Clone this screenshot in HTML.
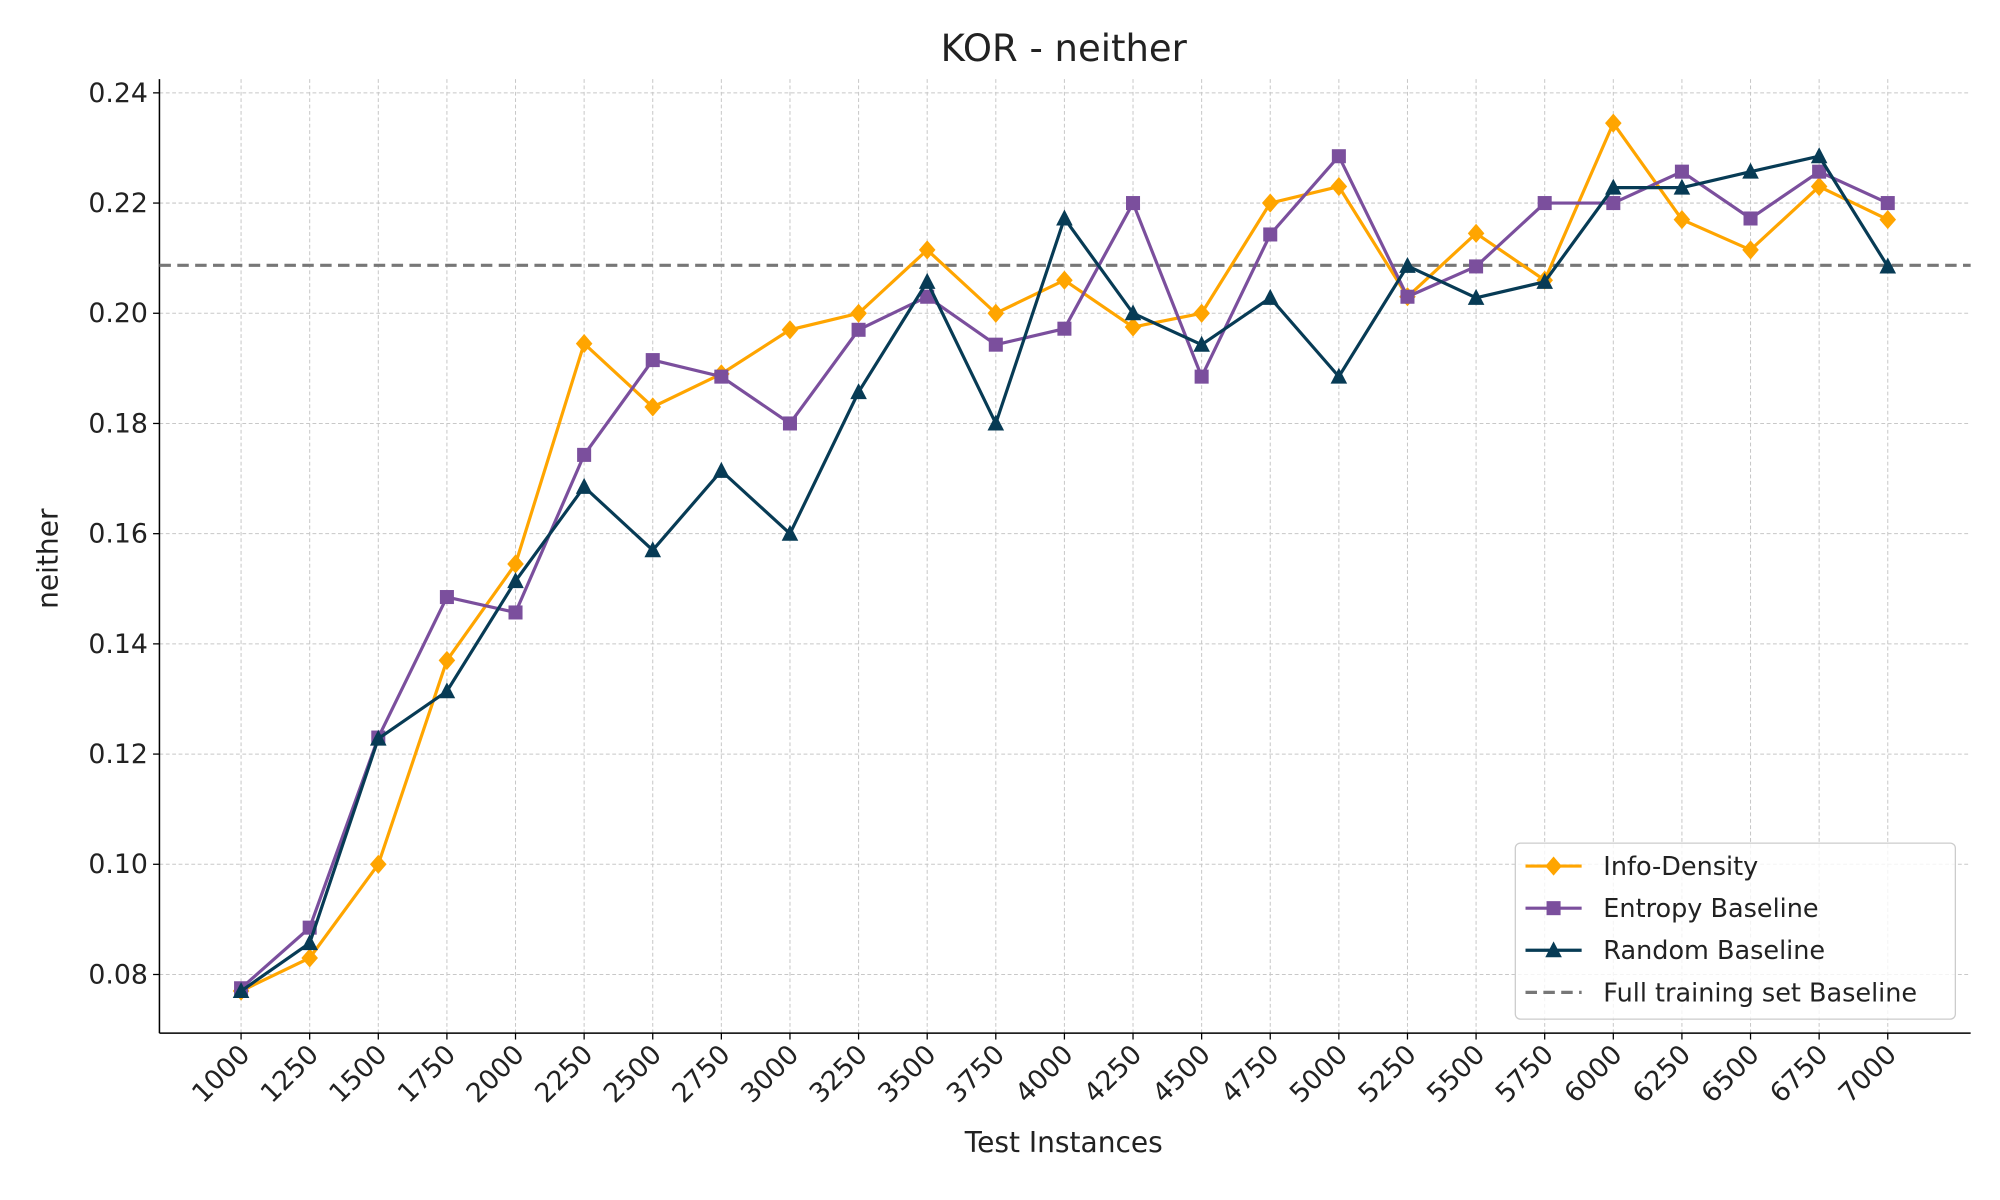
<!DOCTYPE html>
<html><head><meta charset="utf-8"><style>html,body{margin:0;padding:0;background:#fff}svg{display:block}text{font-family:"DejaVu Sans","Liberation Sans",sans-serif;fill:#222}</style></head>
<body>
<svg id="chart" width="2000" height="1200" viewBox="0 0 1568 940.8" xmlns="http://www.w3.org/2000/svg"></svg>
<script>
const categories=[1000,1250,1500,1750,2000,2250,2500,2750,3000,3250,3500,3750,4000,4250,4500,4750,5000,5250,5500,5750,6000,6250,6500,6750,7000];
const infoDensity=[0.077,0.083,0.100,0.137,0.1545,0.1945,0.183,0.189,0.197,0.200,0.2115,0.200,0.206,0.1975,0.200,0.220,0.223,0.203,0.2145,0.206,0.2345,0.217,0.2115,0.223,0.217];
const entropy=[0.0775,0.0885,0.123,0.1485,0.1457,0.1743,0.1915,0.1885,0.180,0.197,0.203,0.1943,0.1972,0.220,0.1885,0.2143,0.2285,0.203,0.2085,0.220,0.220,0.2257,0.2172,0.2257,0.220];
const randomB=[0.077,0.0857,0.1228,0.1314,0.1514,0.1685,0.157,0.1714,0.160,0.1857,0.2057,0.180,0.2172,0.200,0.1943,0.2028,0.1885,0.2086,0.2028,0.2057,0.2228,0.2228,0.2257,0.2285,0.2085];
const fullBaseline=[0.2087];
const yTicks=[0.08,0.10,0.12,0.14,0.16,0.18,0.20,0.22,0.24];

const svg=document.getElementById('chart');
const NS='http://www.w3.org/2000/svg';
const L=125,R=1545,T=62,B=810;
const x0=189,x1=1480;
function X(v){return x0+(v-categories[0])/(categories[categories.length-1]-categories[0])*(x1-x0);}
function Y(v){return 764-(v-0.08)/0.02*86.4;}
function mk(tag,attrs,parent){const e=document.createElementNS(NS,tag);for(const k in attrs)e.setAttribute(k,attrs[k]);(parent||svg).appendChild(e);return e;}

const grid=mk('g',{});


categories.forEach(c=>mk('line',{x1:X(c),x2:X(c),y1:T,y2:B,stroke:'#c8c8c8','stroke-width':0.8,'stroke-dasharray':'3,2'},grid));
yTicks.forEach(t=>mk('line',{x1:L,x2:R,y1:Y(t),y2:Y(t),stroke:'#c8c8c8','stroke-width':0.8,'stroke-dasharray':'3,2'},grid));

const axes=mk('g',{});


mk('line',{x1:L,x2:L,y1:T,y2:B,stroke:'#000','stroke-width':1.2},axes);
mk('line',{x1:L,x2:R,y1:B,y2:B,stroke:'#000','stroke-width':1.2},axes);
yTicks.forEach(t=>{
  mk('line',{x1:L-5,x2:L,y1:Y(t),y2:Y(t),stroke:'#000'},axes);
  const tx=mk('text',{x:L-9,y:Y(t)+7,'text-anchor':'end','font-size':21},axes);tx.textContent=t.toFixed(2);
  
  
});
categories.forEach(c=>{
  mk('line',{x1:X(c),x2:X(c),y1:B,y2:B+5,stroke:'#000'},axes);
  const tx=mk('text',{x:X(c)+8,y:B+18,'text-anchor':'end','font-size':21,transform:`rotate(-45 ${X(c)+8} ${B+18})`},axes);tx.textContent=c;
  
  
});
let t=mk('text',{x:834,y:48,'text-anchor':'middle','font-size':29});t.textContent='KOR - neither';


t=mk('text',{x:834,y:903,'text-anchor':'middle','font-size':22});t.textContent='Test Instances';


t=mk('text',{x:45,y:438,'text-anchor':'middle','font-size':22,transform:'rotate(-90 45 438)'});t.textContent='neither';



const bl=mk('line',{x1:L,x2:R,y1:Y(fullBaseline[0]),y2:Y(fullBaseline[0]),stroke:'#777','stroke-width':2.5,'stroke-dasharray':'9,5'});



function marker(kind,cx,cy,color,g){
  if(kind==='d')return mk('polygon',{points:`${cx},${cy-7.5} ${cx+6.5},${cy} ${cx},${cy+7.5} ${cx-6.5},${cy}`,fill:color},g);
  if(kind==='s')return mk('rect',{x:cx-5.5,y:cy-5.5,width:11,height:11,fill:color},g);
  return mk('polygon',{points:`${cx},${cy-7} ${cx+6.5},${cy+5.5} ${cx-6.5},${cy+5.5}`,fill:color},g);
}
function series(vals,color,kind,name){
  const g=mk('g',{});
  
  
  mk('polyline',{points:vals.map((v,i)=>X(categories[i])+','+Y(v)).join(' '),fill:'none',stroke:color,'stroke-width':2.5},g);
  vals.forEach((v,i)=>{const m=marker(kind,X(categories[i]),Y(v),color,g);
    
    });
}
series(infoDensity,'#FFA500','d','info-density-series');
series(entropy,'#7B4F9D','s','entropy-baseline-series');
series(randomB,'#073B55','t','random-baseline-series');

const lg=mk('g',{});


mk('rect',{x:1188,y:661,width:345,height:138,rx:4,fill:'#fff','fill-opacity':0.8,stroke:'#ccc'},lg);
const items=[['Info-Density','#FFA500','d'],['Entropy Baseline','#7B4F9D','s'],['Random Baseline','#073B55','t'],['Full training set Baseline','#777','l']];
items.forEach((it,i)=>{
  const y=679+i*33;
  const e=mk('g',{},lg);
  
  
  if(it[2]==='l')mk('line',{x1:1196,x2:1240,y1:y,y2:y,stroke:it[1],'stroke-width':2.5,'stroke-dasharray':'9,5'},e);
  else{mk('line',{x1:1196,x2:1240,y1:y,y2:y,stroke:it[1],'stroke-width':2.5},e);marker(it[2],1218,y,it[1],e);}
  const tx=mk('text',{x:1257,y:y+7,'font-size':20},e);tx.textContent=it[0];
});
</script>
</body></html>
